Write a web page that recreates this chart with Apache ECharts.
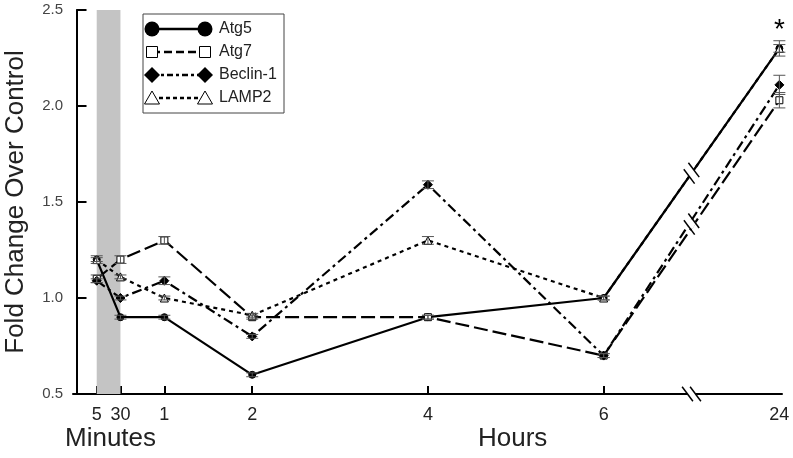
<!DOCTYPE html>
<html><head><meta charset="utf-8">
<script src="https://cdn.jsdelivr.net/npm/echarts@6/dist/echarts.min.js"></script>
<style>html,body{margin:0;padding:0;background:#fff}#c{width:793px;height:458px}</style>
</head><body><div id="c"></div>
<script>
// ---- data ----
const timeLabels = ['5', '30', '1', '2', '4', '6', '24'];
const timeHours  = [5/60, 0.5, 1, 2, 4, 6, 24];
const atg5    = [1.20, 0.90, 0.90, 0.60, 0.90, 1.00, 2.30];
const atg7    = [1.10, 1.20, 1.30, 0.90, 0.90, 0.70, 2.03];
const beclin1 = [1.09, 1.00, 1.09, 0.80, 1.59, 0.70, 2.11];
const lamp2   = [1.20, 1.11, 1.00, 0.91, 1.30, 1.00, 2.30];
const atg5Err    = [0.02, 0.01, 0.01, 0.01, 0.01, 0.01, 0.04];
const atg7Err    = [0.02, 0.02, 0.02, 0.01, 0.01, 0.01, 0.04];
const beclin1Err = [0.01, 0.01, 0.02, 0.01, 0.02, 0.01, 0.05];
const lamp2Err   = [0.01, 0.01, 0.01, 0.01, 0.02, 0.01, 0.02];
const seriesNames = ['Atg5', 'Atg7', 'Beclin-1', 'LAMP2'];
const yTickValues = [0.5, 1.0, 1.5, 2.0, 2.5];

// broken time scale: hours -> axis units
const scaleHours = [0, 5/60, 0.5, 6, 24];
const scaleUnits = [0, 0.23, 0.5, 6, 8];
function toAxis(h) {
  for (let i = 1; i < scaleHours.length; i++) {
    if (h <= scaleHours[i]) {
      const t = (h - scaleHours[i-1]) / (scaleHours[i] - scaleHours[i-1]);
      return scaleUnits[i-1] + t * (scaleUnits[i] - scaleUnits[i-1]);
    }
  }
  return scaleUnits[scaleUnits.length - 1];
}
const tickPos = timeHours.map(toAxis);
const breakPos = (toAxis(6) + toAxis(24)) / 2;

const FONT = '"Liberation Sans", Arial, Helvetica, sans-serif';
const vals = [atg5, atg7, beclin1, lamp2];
const errs = [atg5Err, atg7Err, beclin1Err, lamp2Err];

const styles = [
  { symbol: 'circle', size: 7, fill: '#000', dash: 'solid' },
  { symbol: 'rect', size: 7, fill: '#fff', dash: [14, 5] },
  { symbol: 'diamond', size: 9, fill: '#000', dash: [10, 4, 3, 4] },
  { symbol: 'triangle', size: 8, fill: '#fff', dash: [4, 4] }
];

const series = vals.map((v, si) => {
  const data = v.map((y, i) => [tickPos[i], y]);
  const s = {
    name: seriesNames[si], type: 'line', data: data,
    symbol: styles[si].symbol, symbolSize: styles[si].size,
    itemStyle: { color: styles[si].fill, borderColor: '#000', borderWidth: 1 },
    lineStyle: { color: '#000', width: 2.2, type: styles[si].dash },
    z: 3, animation: false, silent: true
  };
  if (si === 0) {
    s.data = data.map((d, i) => i === data.length - 1 ? {
      value: d,
      label: { show: true, formatter: '*', position: 'top', distance: 0, fontSize: 28, color: '#000', fontFamily: FONT }
    } : d);
    s.markArea = {
      silent: true,
      itemStyle: { color: '#c4c4c4' },
      data: [[{ xAxis: toAxis(5/60), yAxis: 2.5 }, { xAxis: toAxis(0.5), yAxis: 0.5 }]],
      z: 1
    };
  }
  return s;
});

const errData = [];
vals.forEach((v, si) => v.forEach((y, i) => errData.push([tickPos[i], y, errs[si][i]])));
series.push({
  type: 'custom', z: 4, silent: true, animation: false,
  data: errData,
  encode: { x: 0, y: 1 },
  renderItem: function (params, api) {
    const x = api.value(0), y = api.value(1), e = api.value(2);
    const top = api.coord([x, y + e]);
    const bot = api.coord([x, y - e]);
    const w = 6;
    const st = { stroke: '#555', lineWidth: 1 };
    return { type: 'group', children: [
      { type: 'line', shape: { x1: top[0], y1: top[1], x2: bot[0], y2: bot[1] }, style: st },
      { type: 'line', shape: { x1: top[0]-w, y1: top[1], x2: top[0]+w, y2: top[1] }, style: st },
      { type: 'line', shape: { x1: bot[0]-w, y1: bot[1], x2: bot[0]+w, y2: bot[1] }, style: st }
    ]};
  }
});

const chart = echarts.init(document.getElementById('c'), null, { renderer: 'canvas' });
const option = {
  backgroundColor: '#fff',
  animation: false,
  grid: { left: 73, right: 11, top: 10, bottom: 64, containLabel: false, outerBoundsMode: 'none' },
  xAxis: {
    type: 'value', min: -0.04, max: 8.03,
    axisLine: { show: true, lineStyle: { color: '#000', width: 2 } },
    axisTick: { show: true, inside: true, length: 8, customValues: tickPos.slice(0, 6), lineStyle: { color: '#000', width: 2 } },
    axisLabel: {
      customValues: tickPos, fontSize: 18, color: '#222', fontFamily: FONT, margin: 12,
      formatter: function (v) {
        let best = 0;
        tickPos.forEach((p, i) => { if (Math.abs(p - v) < Math.abs(tickPos[best] - v)) best = i; });
        return timeLabels[best];
      }
    },
    splitLine: { show: false }
  },
  yAxis: {
    type: 'value', min: 0.5, max: 2.5, interval: 0.5,
    name: 'Fold Change Over Control', nameLocation: 'middle', nameGap: 44,
    nameTextStyle: { fontSize: 26, color: '#222', fontFamily: FONT },
    axisLine: { show: true, lineStyle: { color: '#000', width: 2 } },
    axisTick: { show: true, inside: true, length: 10, lineStyle: { color: '#000', width: 2 } },
    axisLabel: { fontSize: 15, color: '#444', fontFamily: FONT, margin: 10, formatter: v => v.toFixed(1) },
    splitLine: { show: false }
  },
  series: series
};
chart.setOption(option);

// ---- graphics: axis words, legend, break marks ----
const g = [];
g.push({ type: 'text', left: 65, top: 426, style: { text: 'Minutes', fontSize: 26, fill: '#222', fontFamily: FONT } });
g.push({ type: 'text', left: 478, top: 426, style: { text: 'Hours', fontSize: 26, fill: '#222', fontFamily: FONT } });

// legend
const LX = 143, LY = 14, LW = 141, LH = 99;
g.push({ type: 'rect', shape: { x: LX, y: LY, width: LW, height: LH }, style: { fill: '#fff', stroke: '#444', lineWidth: 1 }, z: 10 });
const rowY = [29, 52, 75, 98];
const lx1 = 152, lx2 = 205;
function legendSym(kind, cx, cy) {
  if (kind === 'circle') return { type: 'circle', shape: { cx: cx, cy: cy, r: 7.5 }, style: { fill: '#000' }, z: 12 };
  if (kind === 'rect') return { type: 'rect', shape: { x: cx-5.5, y: cy-5.5, width: 11, height: 11 }, style: { fill: '#fff', stroke: '#000', lineWidth: 1 }, z: 12 };
  if (kind === 'diamond') return { type: 'polygon', shape: { points: [[cx, cy-8], [cx+8, cy], [cx, cy+8], [cx-8, cy]] }, style: { fill: '#000' }, z: 12 };
  return { type: 'polygon', shape: { points: [[cx, cy-7], [cx+7.5, cy+6], [cx-7.5, cy+6]] }, style: { fill: '#fff', stroke: '#000', lineWidth: 1 }, z: 12 };
}
seriesNames.forEach((n, i) => {
  const y = rowY[i];
  const dash = styles[i].dash === 'solid' ? null : [[8, 4], [6, 3, 3, 3], [4, 3]][i-1];
  g.push({ type: 'line', shape: { x1: lx1, y1: y, x2: lx2, y2: y }, style: { stroke: '#000', lineWidth: 2.5, lineDash: dash }, z: 11 });
  g.push(legendSym(styles[i].symbol, lx1, y));
  g.push(legendSym(styles[i].symbol, lx2, y));
  g.push({ type: 'text', x: 219, y: y, style: { text: n, fontSize: 16, fill: '#222', fontFamily: FONT, textVerticalAlign: 'middle' }, z: 12 });
});

// break marks
function breakMark(c, dir) {
  const gap = 4, sl = 9;
  const sx = 0.6, sy = 0.8;
  const a = [c[0] - dir[0]*gap, c[1] - dir[1]*gap];
  const b = [c[0] + dir[0]*gap, c[1] + dir[1]*gap];
  g.push({ type: 'line', shape: { x1: a[0], y1: a[1], x2: b[0], y2: b[1] }, style: { stroke: '#fff', lineWidth: 7 }, z: 20 });
  [a, b].forEach(p => g.push({ type: 'line', shape: { x1: p[0]-sx*sl, y1: p[1]-sy*sl, x2: p[0]+sx*sl, y2: p[1]+sy*sl }, style: { stroke: '#000', lineWidth: 1.5 }, z: 21 }));
}
function seriesBreak(v1, v2) {
  const p1 = chart.convertToPixel({ gridIndex: 0 }, [toAxis(6), v1]);
  const p2 = chart.convertToPixel({ gridIndex: 0 }, [toAxis(24), v2]);
  const c = chart.convertToPixel({ gridIndex: 0 }, [breakPos, (v1 + v2) / 2]);
  const dx = p2[0] - p1[0], dy = p2[1] - p1[1], L = Math.hypot(dx, dy);
  breakMark(c, [dx / L, dy / L]);
}
const axisBreak = chart.convertToPixel({ gridIndex: 0 }, [breakPos, 0.5]);
breakMark(axisBreak, [1, 0]);
seriesBreak(atg5[5], atg5[6]);
seriesBreak((atg7[5] + beclin1[5]) / 2, (atg7[6] + beclin1[6]) / 2);

chart.setOption({ graphic: g });
</script>
</body></html>
